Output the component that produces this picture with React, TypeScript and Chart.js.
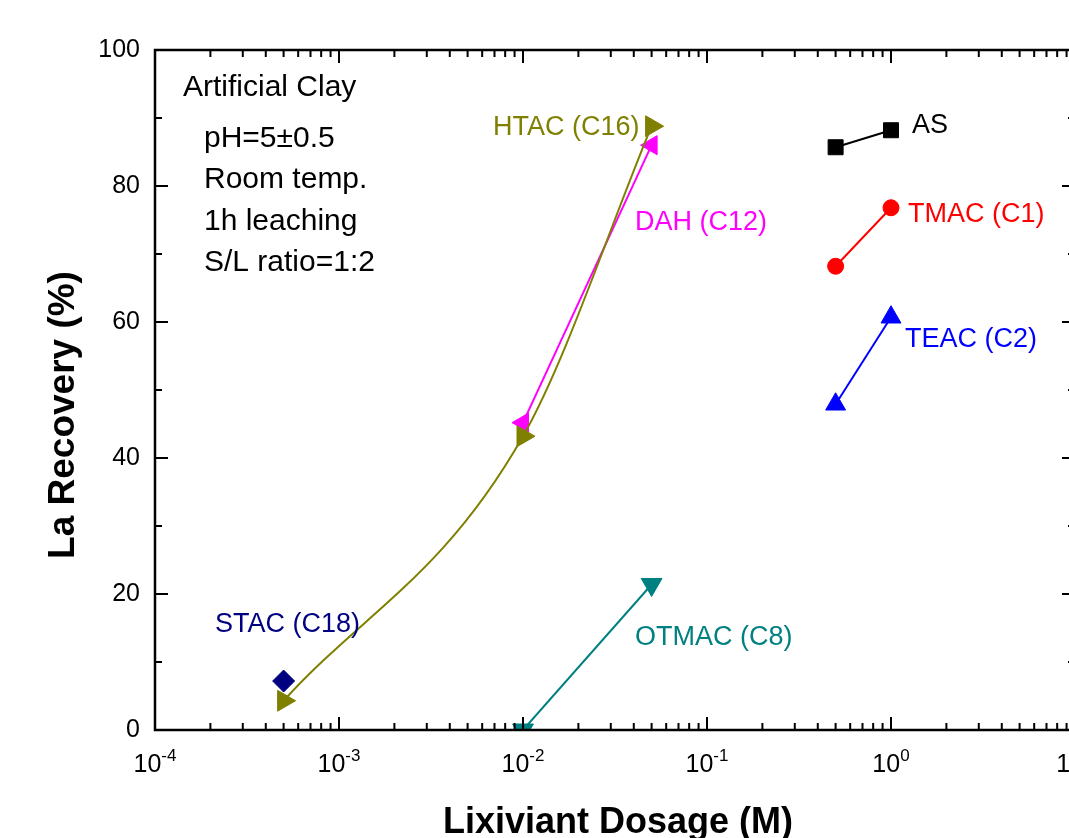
import React, { useEffect, useRef } from "react";
import { Chart, registerables } from "chart.js";

Chart.register(...registerables);

const FONT = '"Liberation Sans", Arial, Helvetica, sans-serif';

// ---- data ----
const asX = [0.5, 1];
const asY = [85.7, 88.2];
const tmacX = [0.5, 1];
const tmacY = [68.2, 76.8];
const teacX = [0.5, 1];
const teacY = [47.9, 60.7];
const otmacX = [0.01, 0.05];
const otmacY = [0, 21.4];
const htacX = [0.0005, 0.01, 0.05];
const htacY = [4.3, 43.2, 88.8];
const dahX = [0.01, 0.05];
const dahY = [45.2, 86.0];
const stacX = [0.0005];
const stacY = [7.2];

const xDecades = [-4, -3, -2, -1, 0, 1];
const yMajorTicks = [0, 20, 40, 60, 80, 100];
const yMinorTicks = [10, 30, 50, 70, 90];

const xTitle = "Lixiviant Dosage (M)";
const yTitle = "La Recovery (%)";
const sampleName = "Artificial Clay";
const conditionLines = ["pH=5\u00B10.5", "Room temp.", "1h leaching", "S/L ratio=1:2"];

const OLIVE = "#808000";
const MAGENTA = "#FF00FF";
const NAVY = "#000080";
const TEAL = "#008080";
const RED = "#FF0000";
const BLUE = "#0000FF";
const BLACK = "#000000";

// series labels: text, colour, pixel anchor (left, baseline)
const seriesLabels = [
  { text: "HTAC (C16)", color: OLIVE, px: 493, py: 135 },
  { text: "DAH (C12)", color: MAGENTA, px: 635, py: 230 },
  { text: "AS", color: BLACK, px: 912, py: 133 },
  { text: "TMAC (C1)", color: RED, px: 908, py: 222 },
  { text: "TEAC (C2)", color: BLUE, px: 905, py: 347 },
  { text: "STAC (C18)", color: NAVY, px: 215, py: 632 },
  { text: "OTMAC (C8)", color: TEAL, px: 635, py: 645 },
];

const toPts = (xs: number[], ys: number[]) => xs.map((x, i) => ({ x, y: ys[i] }));

const series = (
  label: string,
  xs: number[],
  ys: number[],
  color: string,
  pointStyle: string,
  radius: number,
  rotation = 0,
  smooth = false
) => ({
  label,
  data: toPts(xs, ys),
  showLine: true,
  tension: 0,
  cubicInterpolationMode: smooth ? "monotone" : "default",
  borderColor: color,
  backgroundColor: color,
  borderWidth: 2,
  pointStyle,
  rotation,
  pointRadius: radius,
  pointHoverRadius: radius,
  pointBorderWidth: 1,
  pointBorderColor: color,
  pointBackgroundColor: color,
});

const framePlugin = {
  id: "frameAndText",
  afterDraw(chart: any) {
    const { ctx, chartArea: a, scales } = chart;
    const xs = scales.x;
    const ys = scales.y;
    ctx.save();
    // frame
    ctx.strokeStyle = "#000";
    ctx.lineWidth = 2.5;
    ctx.strokeRect(a.left, a.top, a.right - a.left, a.bottom - a.top);
    // ticks (inward, mirrored)
    const MAJ = 13;
    const MIN = 7;
    ctx.lineWidth = 2;
    ctx.beginPath();
    for (const d of xDecades) {
      for (let m = 1; m <= 9; m++) {
        if (d === xDecades[xDecades.length - 1] && m > 1) break;
        const px = xs.getPixelForValue(m * Math.pow(10, d));
        const len = m === 1 ? MAJ : MIN;
        ctx.moveTo(px, a.bottom);
        ctx.lineTo(px, a.bottom - len);
        ctx.moveTo(px, a.top);
        ctx.lineTo(px, a.top + len);
      }
    }
    for (const v of yMajorTicks) {
      const py = ys.getPixelForValue(v);
      ctx.moveTo(a.left, py);
      ctx.lineTo(a.left + MAJ, py);
      ctx.moveTo(a.right, py);
      ctx.lineTo(a.right - MAJ, py);
    }
    for (const v of yMinorTicks) {
      const py = ys.getPixelForValue(v);
      ctx.moveTo(a.left, py);
      ctx.lineTo(a.left + MIN, py);
      ctx.moveTo(a.right, py);
      ctx.lineTo(a.right - MIN, py);
    }
    ctx.stroke();

    // x tick labels 10^n
    ctx.fillStyle = "#000";
    ctx.textBaseline = "alphabetic";
    ctx.textAlign = "left";
    for (const d of xDecades) {
      const px = xs.getPixelForValue(Math.pow(10, d));
      const base = "10";
      const exp = String(d);
      ctx.font = `25px ${FONT}`;
      const wb = ctx.measureText(base).width;
      ctx.font = `17px ${FONT}`;
      const we = ctx.measureText(exp).width;
      const start = px - (wb + we) / 2;
      ctx.font = `25px ${FONT}`;
      ctx.fillText(base, start, a.bottom + 42);
      ctx.font = `17px ${FONT}`;
      ctx.fillText(exp, start + wb, a.bottom + 31);
    }

    // axis titles
    ctx.font = `bold 36px ${FONT}`;
    ctx.textAlign = "center";
    ctx.fillText(xTitle, (a.left + a.right) / 2 + 3, a.bottom + 103);
    ctx.save();
    ctx.translate(74, 415);
    ctx.rotate(-Math.PI / 2);
    ctx.font = `bold 37px ${FONT}`;
    ctx.fillText(yTitle, 0, 0);
    ctx.restore();

    // annotation block
    ctx.textAlign = "left";
    ctx.font = `30px ${FONT}`;
    ctx.fillStyle = "#000";
    ctx.fillText(sampleName, a.left + 28, a.top + 46);
    conditionLines.forEach((t, i) => {
      ctx.fillText(t, a.left + 49, a.top + 97 + i * 41.3);
    });

    // series labels
    ctx.font = `27px ${FONT}`;
    for (const l of seriesLabels) {
      ctx.fillStyle = l.color;
      ctx.fillText(l.text, l.px, l.py);
    }
    ctx.restore();
  },
};

export default function App() {
  const ref = useRef<HTMLCanvasElement | null>(null);

  useEffect(() => {
    document.documentElement.style.overflow = "hidden";
    document.body.style.overflow = "hidden";
    const canvas = ref.current;
    if (!canvas) return;
    const chart = new Chart(canvas, {
      type: "scatter",
      data: {
        datasets: [
          series("HTAC (C16)", htacX, htacY, OLIVE, "triangle", 12, 90, true),
          series("DAH (C12)", dahX, dahY, MAGENTA, "triangle", 11, 270),
          series("STAC (C18)", stacX, stacY, NAVY, "rectRot", 11),
          series("OTMAC (C8)", otmacX, otmacY, TEAL, "triangle", 12, 180),
          series("AS", asX, asY, BLACK, "rect", 10.6),
          series("TMAC (C1)", tmacX, tmacY, RED, "circle", 8),
          series("TEAC (C2)", teacX, teacY, BLUE, "triangle", 11.5),
        ] as any,
      },
      options: {
        responsive: false,
        maintainAspectRatio: false,
        animation: false,
        events: [],
        layout: { padding: { left: 0, top: 50, right: 25, bottom: 0 } },
        plugins: {
          legend: { display: false },
          tooltip: { enabled: false },
          title: { display: false },
        },
        scales: {
          x: {
            type: "logarithmic",
            min: 1e-4,
            max: 10,
            ticks: { display: false },
            grid: { display: false, drawTicks: false },
            border: { display: false },
            afterFit: (s: any) => {
              s.height = 108;
            },
          },
          y: {
            type: "linear",
            min: 0,
            max: 100,
            ticks: {
              stepSize: 20,
              color: "#000",
              padding: 15,
              font: { family: FONT, size: 25 },
            },
            grid: { display: false, drawTicks: false },
            border: { display: false },
            afterFit: (s: any) => {
              s.width = 155;
            },
          },
        },
      } as any,
      plugins: [framePlugin],
    });
    return () => chart.destroy();
  }, []);

  return (
    <div style={{ position: "fixed", left: 0, top: 0, width: 1100, height: 838, background: "#fff" }}>
      <canvas ref={ref} width={1100} height={838} style={{ display: "block" }} />
    </div>
  );
}
